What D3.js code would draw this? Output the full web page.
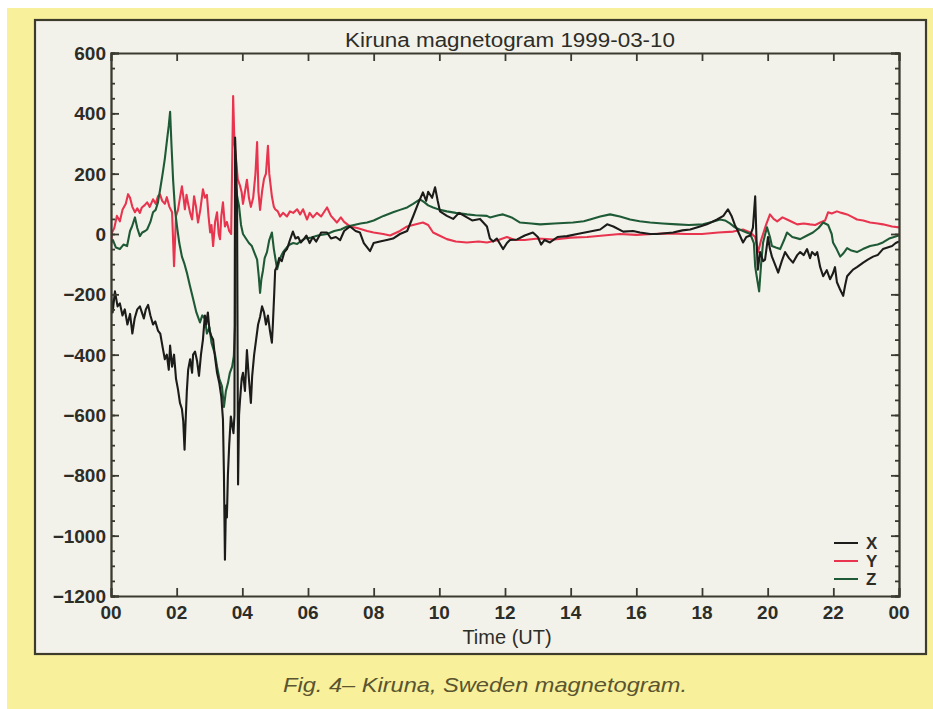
<!DOCTYPE html>
<html lang="en">
<head>
<meta charset="UTF-8">
<script src="https://d3js.org/d3.v7.min.js"></script>
<style>
  body { margin: 0; background: #ffffff; }
  svg { display: block; }
  .tick-label { font-family: "Liberation Sans", Arial, sans-serif; font-size: 19px; font-weight: bold; fill: #2d2d28; }
  .title { font-family: "Liberation Sans", Arial, sans-serif; font-size: 20px; fill: #2d2d28; }
  .caption { font-family: "Liberation Sans", Arial, sans-serif; font-size: 21px; font-style: italic; fill: #5a5430; }
</style>
</head>
<body>
<div id="chart"></div>
<script>
// hour of day (UT), nT
const seriesX = [
  [0.00,-200],[0.05,-260],[0.12,-190],[0.2,-240],[0.27,-230],[0.35,-270],[0.42,-250],[0.5,-300],[0.58,-265],[0.65,-330],
  [0.72,-280],[0.8,-250],[0.88,-240],[0.94,-260],[1.0,-280],[1.06,-250],[1.13,-235],[1.2,-270],[1.28,-300],[1.35,-290],
  [1.43,-320],[1.5,-330],[1.58,-380],[1.64,-415],[1.7,-400],[1.76,-450],[1.8,-370],[1.86,-440],[1.92,-400],[1.98,-480],
  [2.04,-515],[2.1,-560],[2.16,-580],[2.2,-620],[2.24,-715],[2.28,-600],[2.31,-520],[2.35,-450],[2.41,-415],[2.47,-460],
  [2.5,-400],[2.56,-390],[2.62,-420],[2.68,-470],[2.74,-400],[2.8,-350],[2.86,-270],[2.9,-300],[2.95,-260],[3.0,-320],
  [3.06,-340],[3.11,-350],[3.17,-410],[3.23,-460],[3.3,-495],[3.36,-540],[3.41,-615],[3.44,-800],[3.47,-1080],[3.5,-900],
  [3.53,-940],[3.56,-800],[3.6,-700],[3.65,-605],[3.7,-640],[3.73,-660],[3.76,-600],[3.78,320],[3.81,230],[3.84,100],
  [3.87,-830],[3.9,-600],[3.93,-550],[3.98,-480],[4.02,-460],[4.08,-520],[4.14,-385],[4.2,-480],[4.26,-560],[4.3,-470],
  [4.36,-400],[4.42,-350],[4.48,-300],[4.54,-275],[4.6,-240],[4.66,-260],[4.72,-300],[4.78,-270],[4.84,-320],[4.9,-360],
  [4.93,-300],[4.97,-200],[5.0,-120],[5.06,-107],[5.12,-80],[5.2,-90],[5.28,-60],[5.36,-50],[5.45,-20],[5.54,8],
  [5.62,-15],[5.7,-10],[5.78,-28],[5.85,-20],[5.95,-5],[6.05,-30],[6.15,-10],[6.25,-25],[6.4,5],[6.58,5],
  [6.7,-15],[6.85,-10],[6.98,-20],[7.1,10],[7.28,25],[7.45,10],[7.58,5],[7.7,-30],[7.89,-57],[8.0,-30],
  [8.19,-25],[8.4,-20],[8.59,-15],[8.8,0],[9.02,10],[9.2,58],[9.35,100],[9.5,138],[9.6,110],[9.66,140],
  [9.78,120],[9.87,155],[9.95,110],[10.02,75],[10.23,60],[10.42,50],[10.6,70],[10.84,55],[11.0,45],[11.24,50],
  [11.45,25],[11.54,-15],[11.64,-25],[11.75,-15],[11.94,-50],[12.06,-30],[12.15,-20],[12.37,-18],[12.6,-5],[12.85,5],
  [13.0,-10],[13.1,-35],[13.2,-20],[13.37,-28],[13.6,-10],[13.89,-7],[14.2,0],[14.59,8],[14.9,15],[15.11,32],
  [15.3,25],[15.6,8],[15.9,10],[16.11,5],[16.42,0],[16.63,0],[17.12,5],[17.4,12],[17.64,15],[17.94,25],
  [18.15,32],[18.46,48],[18.65,60],[18.79,82],[18.9,60],[19.0,30],[19.07,15],[19.25,-28],[19.35,-10],[19.47,-5],
  [19.55,20],[19.62,125],[19.66,-20],[19.7,-118],[19.77,-60],[19.86,-90],[19.92,-85],[20.01,-10],[20.07,-50],[20.13,-75],
  [20.22,-100],[20.32,-128],[20.43,-90],[20.53,-60],[20.65,-80],[20.77,-95],[20.9,-70],[20.99,-60],[21.1,-70],[21.2,-50],
  [21.29,-80],[21.35,-60],[21.45,-70],[21.51,-60],[21.6,-110],[21.69,-140],[21.8,-120],[21.9,-150],[21.99,-130],[22.05,-110],
  [22.11,-160],[22.21,-185],[22.3,-205],[22.36,-170],[22.42,-140],[22.5,-130],[22.6,-118],[22.72,-110],[22.91,-95],[23.05,-85],
  [23.21,-75],[23.35,-70],[23.51,-50],[23.65,-45],[23.79,-40],[23.9,-30],[24.0,-25]
];

const seriesY = [
  [0.0,-40],[0.03,5],[0.1,20],[0.18,60],[0.27,42],[0.35,80],[0.45,100],[0.52,132],[0.58,120],[0.65,90],
  [0.73,72],[0.8,85],[0.88,70],[0.94,88],[1.02,95],[1.1,105],[1.18,90],[1.28,115],[1.36,100],[1.43,125],
  [1.49,132],[1.56,110],[1.64,100],[1.7,122],[1.78,90],[1.86,72],[1.92,-107],[1.98,60],[2.04,80],[2.1,120],
  [2.16,158],[2.22,110],[2.25,82],[2.3,130],[2.35,100],[2.41,70],[2.47,48],[2.53,125],[2.59,90],[2.65,38],
  [2.72,80],[2.8,148],[2.86,120],[2.92,130],[2.97,60],[3.02,5],[3.06,30],[3.11,-40],[3.17,40],[3.23,72],
  [3.28,0],[3.32,-17],[3.36,60],[3.41,105],[3.47,25],[3.53,40],[3.6,10],[3.66,0],[3.72,457],[3.76,300],
  [3.8,258],[3.86,182],[3.93,160],[3.98,138],[4.02,100],[4.08,140],[4.14,180],[4.2,120],[4.26,90],[4.33,120],
  [4.4,200],[4.45,305],[4.49,140],[4.54,80],[4.6,140],[4.66,183],[4.72,200],[4.78,292],[4.82,200],[4.9,125],
  [4.96,90],[5.0,82],[5.08,75],[5.15,58],[5.24,70],[5.36,58],[5.45,75],[5.55,70],[5.67,82],[5.76,65],
  [5.85,82],[5.97,48],[6.05,70],[6.15,55],[6.27,70],[6.4,58],[6.58,88],[6.7,60],[6.88,38],[7.0,55],
  [7.1,40],[7.28,25],[7.5,20],[7.8,10],[8.0,5],[8.29,0],[8.5,-5],[8.8,10],[9.02,25],[9.2,30],
  [9.5,38],[9.66,30],[9.81,5],[10.0,-5],[10.23,-17],[10.5,-25],[10.84,-28],[11.2,-25],[11.45,-28],[11.8,-20],
  [12.06,-10],[12.3,-20],[12.6,-20],[13.0,-15],[13.5,-18],[14.0,-12],[14.5,-10],[15.0,-5],[15.5,0],[16.0,-3],
  [16.5,0],[17.0,2],[17.5,0],[18.0,0],[18.5,5],[18.95,8],[19.25,15],[19.47,5],[19.62,-10],[19.71,-60],
  [19.8,-20],[19.86,0],[19.95,30],[20.07,65],[20.18,50],[20.29,42],[20.45,55],[20.59,48],[20.75,40],[20.9,32],
  [21.1,35],[21.29,32],[21.45,30],[21.6,38],[21.75,45],[21.84,72],[21.95,68],[22.11,75],[22.25,70],[22.42,65],
  [22.6,55],[22.72,48],[22.91,45],[23.12,38],[23.35,35],[23.51,32],[23.79,25],[24.0,22]
];

const seriesZ = [
  [0.0,-30],[0.06,-20],[0.15,-45],[0.27,-50],[0.38,-35],[0.49,-40],[0.58,10],[0.64,25],[0.73,55],[0.8,20],
  [0.88,-7],[0.95,5],[1.04,10],[1.1,15],[1.2,40],[1.28,72],[1.36,80],[1.43,105],[1.5,150],[1.58,205],
  [1.64,250],[1.71,315],[1.76,360],[1.8,405],[1.84,300],[1.89,182],[1.95,80],[2.01,25],[2.08,-30],[2.16,-75],
  [2.24,-100],[2.31,-128],[2.4,-170],[2.5,-215],[2.6,-260],[2.71,-293],[2.78,-270],[2.86,-280],[2.92,-330],[3.0,-310],
  [3.06,-360],[3.17,-400],[3.23,-440],[3.3,-480],[3.38,-505],[3.44,-573],[3.5,-520],[3.56,-495],[3.62,-460],[3.69,-440],
  [3.74,-405],[3.78,-300],[3.81,150],[3.85,120],[3.9,92],[3.96,30],[4.02,0],[4.08,-10],[4.14,-20],[4.2,-30],
  [4.29,-40],[4.36,-60],[4.45,-85],[4.5,-140],[4.54,-195],[4.58,-150],[4.63,-120],[4.68,-80],[4.75,-60],[4.82,-20],
  [4.9,5],[4.96,-50],[5.06,-117],[5.15,-80],[5.24,-60],[5.35,-45],[5.45,-35],[5.55,-30],[5.67,-33],[5.76,-25],
  [5.9,-15],[6.1,-12],[6.3,-5],[6.58,0],[6.8,10],[7.0,15],[7.19,25],[7.4,30],[7.6,35],[7.8,38],
  [8.0,45],[8.3,60],[8.59,72],[8.8,80],[9.02,88],[9.2,100],[9.41,115],[9.55,105],[9.66,95],[9.81,88],
  [10.02,80],[10.23,75],[10.5,70],[10.84,65],[11.1,62],[11.45,60],[11.54,55],[11.8,62],[11.94,65],[12.2,55],
  [12.46,38],[12.8,35],[13.07,32],[13.5,35],[14.07,38],[14.4,42],[14.59,48],[14.9,58],[15.2,65],[15.5,58],
  [15.81,48],[16.1,42],[16.42,38],[16.8,35],[17.24,32],[17.6,30],[18.03,32],[18.3,40],[18.55,48],[18.7,45],
  [18.85,35],[19.0,22],[19.25,10],[19.47,0],[19.58,-30],[19.62,-108],[19.68,-150],[19.74,-190],[19.8,-100],[19.86,-28],
  [19.95,10],[19.98,22],[20.07,-10],[20.13,-40],[20.25,-45],[20.38,-50],[20.5,-20],[20.59,5],[20.75,-10],[20.99,-17],
  [21.2,-5],[21.38,5],[21.55,20],[21.69,38],[21.84,30],[21.95,0],[21.99,-28],[22.1,-50],[22.21,-75],[22.3,-65],
  [22.42,-47],[22.55,-55],[22.72,-60],[22.9,-50],[23.12,-40],[23.35,-35],[23.51,-28],[23.7,-15],[23.85,-10],[24.0,-5]
];

const hourTicks = [0, 2, 4, 6, 8, 10, 12, 14, 16, 18, 20, 22, 24];
const hourLabels = ["00", "02", "04", "06", "08", "10", "12", "14", "16", "18", "20", "22", "00"];
const nTTicks = [600, 400, 200, 0, -200, -400, -600, -800, -1000, -1200];
const nTLabels = ["600", "400", "200", "0", "\u2212200", "\u2212400", "\u2212600", "\u2212800", "\u22121000", "\u22121200"];
const legendNames = ["X", "Y", "Z"];
const legendColors = ["#1c1c1a", "#e8344e", "#1f5a36"];

const W = 933, H = 709;
const plot = { left: 111, right: 899, top: 53, bottom: 596 };

const svg = d3.select("#chart").append("svg")
  .attr("width", W).attr("height", H);

// scanned page look
svg.append("rect").attr("x", 7).attr("y", 8).attr("width", W - 7).attr("height", H - 8)
  .attr("fill", "#f8f09a");
svg.append("rect").attr("x", 35).attr("y", 20).attr("width", 891).attr("height", 634)
  .attr("fill", "#f3f2ea").attr("stroke", "#3d3b2c").attr("stroke-width", 2.2);

const x = d3.scaleLinear().domain([0, 24]).range([plot.left, plot.right]);
const y = d3.scaleLinear().domain([-1200, 600]).range([plot.bottom, plot.top]);

svg.append("clipPath").attr("id", "clip")
  .append("rect").attr("x", plot.left).attr("y", plot.top)
  .attr("width", plot.right - plot.left).attr("height", plot.bottom - plot.top);

const line = d3.line().x(d => x(d[0])).y(d => y(d[1]));

const lines = svg.append("g").attr("clip-path", "url(#clip)");
[[seriesY, legendColors[1]], [seriesZ, legendColors[2]], [seriesX, legendColors[0]]].forEach(([data, col]) => {
  lines.append("path")
    .datum(data)
    .attr("d", line)
    .attr("fill", "none")
    .attr("stroke", col)
    .attr("stroke-width", 2.1)
    .attr("stroke-linejoin", "round");
});

// axes (IDL style: ticks inward on all four sides)
const axisCol = "#3a3a30";
const bottomAxis = d3.axisBottom(x).tickValues(hourTicks).tickSize(-8).tickFormat("");
const topAxis = d3.axisTop(x).tickValues(hourTicks).tickSize(-8).tickFormat("");
const minorY = d3.range(-1200, 601, 50);
const leftMinor = d3.axisLeft(y).tickValues(minorY).tickSize(-4).tickFormat("");
const rightMinor = d3.axisRight(y).tickValues(minorY).tickSize(-4).tickFormat("");
const leftAxis = d3.axisLeft(y).tickValues(nTTicks).tickSize(-8).tickFormat("");
const rightAxis = d3.axisRight(y).tickValues(nTTicks).tickSize(-8).tickFormat("");

function styleAxis(g) {
  g.selectAll("path, line").attr("stroke", axisCol).attr("stroke-width", 1.8);
}
svg.append("g").attr("transform", `translate(0,${plot.bottom})`).call(bottomAxis).call(styleAxis);
svg.append("g").attr("transform", `translate(0,${plot.top})`).call(topAxis).call(styleAxis);
svg.append("g").attr("transform", `translate(${plot.left},0)`).call(leftMinor).call(styleAxis);
svg.append("g").attr("transform", `translate(${plot.right},0)`).call(rightMinor).call(styleAxis);
svg.append("g").attr("transform", `translate(${plot.left},0)`).call(leftAxis).call(styleAxis);
svg.append("g").attr("transform", `translate(${plot.right},0)`).call(rightAxis).call(styleAxis);

// tick labels
svg.selectAll(".xl").data(hourTicks).enter().append("text")
  .attr("class", "tick-label")
  .attr("x", d => x(d)).attr("y", plot.bottom + 23)
  .attr("text-anchor", "middle")
  .text((d, i) => hourLabels[i]);

svg.selectAll(".yl").data(nTTicks).enter().append("text")
  .attr("class", "tick-label")
  .attr("x", plot.left - 5).attr("y", d => y(d) + 7)
  .attr("text-anchor", "end")
  .text((d, i) => nTLabels[i]);

svg.append("text").attr("class", "title")
  .attr("x", 510).attr("y", 47).attr("text-anchor", "middle")
  .attr("textLength", 330).attr("lengthAdjust", "spacingAndGlyphs")
  .text("Kiruna magnetogram 1999-03-10");

svg.append("text").attr("class", "title")
  .attr("x", 507).attr("y", 644).attr("text-anchor", "middle")
  .text("Time (UT)");

// legend
const leg = svg.append("g");
legendNames.forEach((name, i) => {
  const ly = 543 + i * 18;
  leg.append("line").attr("x1", 834).attr("x2", 858).attr("y1", ly).attr("y2", ly)
    .attr("stroke", legendColors[i]).attr("stroke-width", 2);
  leg.append("text").attr("class", "tick-label").style("font-size", "17px")
    .attr("x", 866).attr("y", ly + 6)
    .text(name);
});

svg.append("text").attr("class", "caption")
  .attr("x", 485).attr("y", 692).attr("text-anchor", "middle")
  .attr("textLength", 404).attr("lengthAdjust", "spacingAndGlyphs")
  .text("Fig. 4\u2013 Kiruna, Sweden magnetogram.");
</script>
</body>
</html>
